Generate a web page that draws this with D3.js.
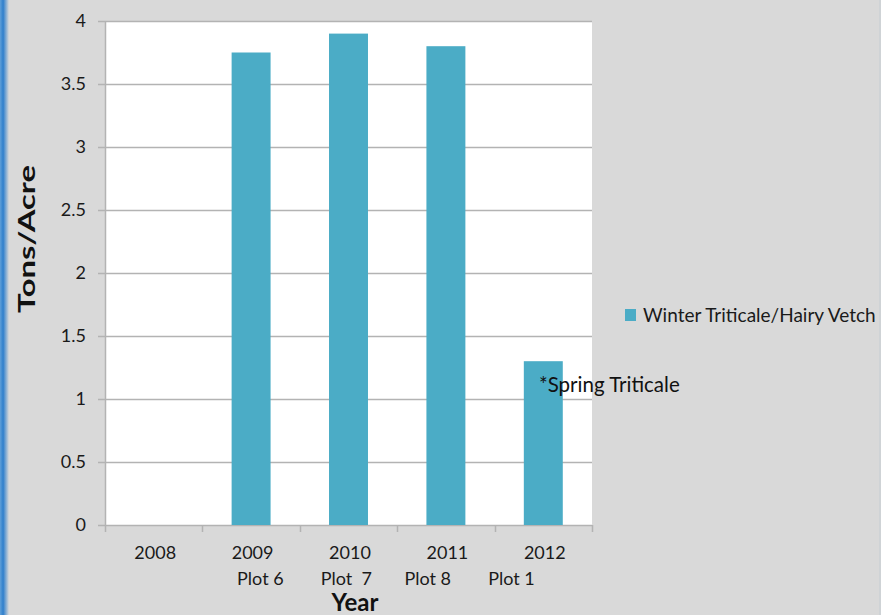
<!DOCTYPE html>
<html><head><meta charset="utf-8">
<script src="https://cdn.jsdelivr.net/npm/d3@7"></script>
<style>body{margin:0;background:#d9d9d9;} svg{display:block;}</style>
</head><body>
<script>
const years = ["2008","2009","2010","2011","2012"];
const plots = ["", "Plot 6", "Plot  7", "Plot 8", "Plot 1"];
const values = [0, 3.75, 3.90, 3.80, 1.30];
const yTicks = [0, 0.5, 1, 1.5, 2, 2.5, 3, 3.5, 4];
const seriesName = "Winter Triticale/Hairy Vetch";
const note = "*Spring Triticale";

const W = 881, H = 615;
const svg = d3.select("body").append("svg").attr("width", W).attr("height", H);
const font = "Lato, 'Open Sans', sans-serif";

svg.append("rect").attr("width", W).attr("height", H).attr("fill", "#d9d9d9");
const defs = svg.append("defs");
const g1 = defs.append("linearGradient").attr("id", "edge").attr("x1", "0").attr("x2", "1");
g1.append("stop").attr("offset", "0").attr("stop-color", "#5f9fd8");
g1.append("stop").attr("offset", "0.35").attr("stop-color", "#2f7fcc");
g1.append("stop").attr("offset", "1").attr("stop-color", "#d9d9d9");
svg.append("rect").attr("x", 0).attr("y", 0).attr("width", 9).attr("height", H).attr("fill", "url(#edge)");
svg.append("rect").attr("x", 879).attr("y", 0).attr("width", 2).attr("height", H).attr("fill", "#cfd3d6");

const pL = 105, pR = 592, pT = 21, pB = 525;
const x = d3.scaleBand().domain(years).range([pL, pR]).paddingInner(0.6).paddingOuter(0.3);
const xTickScale = d3.scaleBand().domain(years).range([pL, pR]);
const y = d3.scaleLinear().domain([0, 4]).range([pB, pT]);

svg.append("rect").attr("x", pL).attr("y", pT).attr("width", pR - pL).attr("height", pB - pT).attr("fill", "#ffffff");

const grid = "#b3b3b3";
svg.append("g").selectAll("line").data(yTicks).join("line")
  .attr("x1", pL - 7).attr("x2", pR)
  .attr("y1", d => Math.round(y(d)) + 0.5).attr("y2", d => Math.round(y(d)) + 0.5)
  .attr("stroke", grid).attr("stroke-width", 1.5);

svg.append("g").selectAll("rect").data(years).join("rect")
  .attr("x", (d) => x(d)).attr("width", x.bandwidth())
  .attr("y", (d, i) => y(values[i])).attr("height", (d, i) => y(0) - y(values[i]))
  .attr("fill", "#4bacc6");

svg.append("line").attr("x1", pL + 0.5).attr("x2", pL + 0.5).attr("y1", pT).attr("y2", pB)
  .attr("stroke", grid).attr("stroke-width", 1.5);
const xt = years.map(d => xTickScale(d)).concat([pR]);
svg.append("g").selectAll("line").data(xt).join("line")
  .attr("x1", d => Math.round(d) + 0.5).attr("x2", d => Math.round(d) + 0.5)
  .attr("y1", pB).attr("y2", pB + 7)
  .attr("stroke", grid).attr("stroke-width", 1.5);

svg.append("g").selectAll("text").data(yTicks).join("text")
  .attr("x", 86).attr("y", d => y(d)).attr("dy", "0.36em")
  .attr("text-anchor", "end").attr("font-family", font).attr("font-size", 18).attr("fill", "#1a1a1a")
  .text(d => d);

const xl = svg.append("g").selectAll("g").data(years).join("g");
xl.append("text").attr("x", d => xTickScale(d) + xTickScale.bandwidth() / 2 + 1.5).attr("y", 559)
  .attr("text-anchor", "middle").attr("font-family", font).attr("font-size", 18).attr("fill", "#1a1a1a")
  .text(d => d);
xl.append("text").attr("x", (d, i) => xTickScale(d) + 48.7 - 14 - 13.7 * (i - 1)).attr("y", 585)
  .attr("text-anchor", "start").attr("font-family", font).attr("font-size", 18).attr("fill", "#1a1a1a")
  .style("white-space", "pre").attr("xml:space", "preserve")
  .text((d, i) => plots[i]);

svg.append("text").attr("x", 355).attr("y", 611).attr("text-anchor", "middle")
  .attr("font-family", font).attr("font-size", 24).attr("font-weight", "bold").attr("fill", "#111")
  .text("Year");
svg.append("text").attr("transform", "translate(35,239) rotate(-90)").attr("text-anchor", "middle")
  .attr("font-family", font).attr("font-size", 23).attr("font-weight", "bold").attr("fill", "#111")
  .attr("textLength", 148).attr("lengthAdjust", "spacingAndGlyphs")
  .text("Tons/Acre");

svg.append("rect").attr("x", 625).attr("y", 309).attr("width", 11).attr("height", 12).attr("fill", "#4bacc6");
svg.append("text").attr("x", 643).attr("y", 322).attr("font-family", font).attr("font-size", 19).attr("fill", "#1a1a1a")
  .text(seriesName);

svg.append("text").attr("x", 539).attr("y", 392).attr("font-family", font).attr("font-size", 20.5).attr("fill", "#111")
  .text(note);
</script>
</body></html>
